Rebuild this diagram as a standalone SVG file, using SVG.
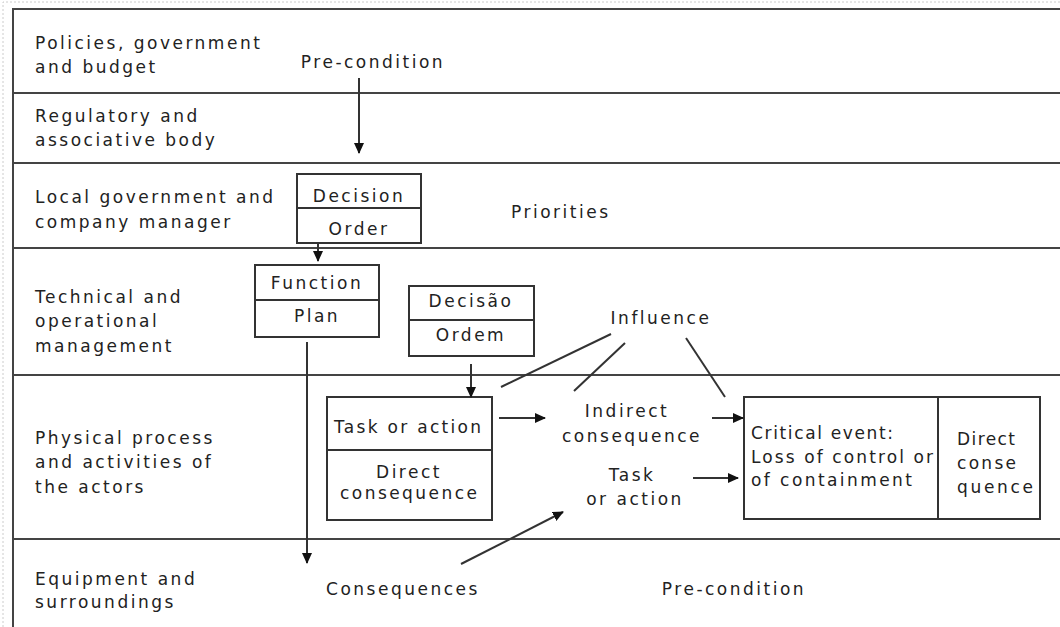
<svg xmlns="http://www.w3.org/2000/svg" width="1060" height="627" viewBox="0 0 1060 627">
<defs>
<marker id="ah" markerUnits="userSpaceOnUse" markerWidth="11" markerHeight="10" refX="10" refY="5" orient="auto">
<path d="M0,0 L11,5 L0,10 z" fill="#111"/>
</marker>
<style>
text{font-family:"DejaVu Sans",Verdana,sans-serif;font-size:17px;fill:#222;letter-spacing:2.5px}
.c{text-anchor:middle}
.t{letter-spacing:0}
.lane{stroke:#444;stroke-width:2;fill:none}
.box{stroke:#333;stroke-width:2;fill:#fff}
.div{stroke:#333;stroke-width:2}
.con{stroke:#333;stroke-width:2;fill:none}
.arr{marker-end:url(#ah)}
</style>
</defs>
<rect width="1060" height="627" fill="#fff"/>
<path d="M3,627 V2 H1060" stroke="#ccc" stroke-width="1" stroke-dasharray="2,2" fill="none"/>
<g id="lanes">
<path class="lane" d="M13,627 V9 H1060 M13,93 H1060 M13,163 H1060 M13,248 H1060 M13,375 H1060 M13,539 H1060"/>
<text x="35" y="49">Policies, government</text>
<text x="35" y="73">and budget</text>
<text x="35" y="122">Regulatory and</text>
<text x="35" y="146">associative body</text>
<text x="35" y="203">Local government and</text>
<text x="35" y="228">company manager</text>
<text x="35" y="303">Technical and</text>
<text x="35" y="327">operational</text>
<text x="35" y="352">management</text>
<text x="35" y="444">Physical process</text>
<text x="35" y="468">and activities of</text>
<text x="35" y="493">the actors</text>
<text x="35" y="585">Equipment and</text>
<text x="35" y="608">surroundings</text>
</g>
<g id="labels">
<text class="c" x="373" y="68">Pre-condition</text>
<text x="511" y="218">Priorities</text>
<text class="c" x="661" y="324">Influence</text>
<text class="c" x="627" y="417">Indirect</text>
<text class="c" x="632" y="442">consequence</text>
<text class="c" x="632" y="481">Task</text>
<text class="c" x="635" y="505">or action</text>
<text class="c" x="403" y="595">Consequences</text>
<text class="c" x="734" y="595">Pre-condition</text>
</g>
<g id="decision">
<rect class="box" x="297" y="174" width="124" height="69"/>
<line class="div" x1="297" y1="208" x2="421" y2="208"/>
<text class="c" x="359" y="202">Decision</text>
<text class="c" x="359" y="235">Order</text>
</g>
<g id="function">
<rect class="box" x="255" y="265" width="124" height="72"/>
<line class="div" x1="255" y1="300" x2="379" y2="300"/>
<text class="c" x="317" y="289">Function</text>
<text class="c" x="317" y="322">Plan</text>
</g>
<g id="decisao">
<rect class="box" x="409" y="286" width="125" height="70"/>
<line class="div" x1="409" y1="320" x2="534" y2="320"/>
<text class="c" x="471" y="307">Decisão</text>
<text class="c" x="471" y="341">Ordem</text>
</g>
<g id="task">
<rect class="box" x="327" y="397" width="165" height="123"/>
<line class="div" x1="327" y1="450" x2="492" y2="450"/>
<text class="t" x="334" y="433" textLength="147">Task or action</text>
<text class="c" x="409" y="478">Direct</text>
<text class="t" x="340" y="499" textLength="137">consequence</text>
</g>
<g id="critical">
<rect class="box" x="744" y="397" width="296" height="122"/>
<line class="div" x1="938" y1="397" x2="938" y2="519"/>
<text class="t" x="751" y="439" textLength="142">Critical event:</text>
<text class="t" x="751" y="463" textLength="182">Loss of control or</text>
<text class="t" x="751" y="486" textLength="161">of containment</text>
<text class="t" x="957" y="445" textLength="58">Direct</text>
<text class="t" x="957" y="469" textLength="59">conse</text>
<text class="t" x="957" y="493" textLength="76">quence</text>
</g>
<g id="connectors">
<line class="con arr" x1="359" y1="78" x2="359" y2="153"/>
<line class="con arr" x1="318" y1="244" x2="318" y2="261"/>
<line class="con arr" x1="307" y1="342" x2="307" y2="563"/>
<line class="con arr" x1="471" y1="364" x2="471" y2="397"/>
<line class="con arr" x1="499" y1="418" x2="545" y2="418"/>
<line class="con arr" x1="712" y1="418" x2="743" y2="418"/>
<line class="con arr" x1="693" y1="478" x2="738" y2="478"/>
<line class="con arr" x1="461" y1="564" x2="563" y2="512"/>
<line class="con" x1="611" y1="334" x2="501" y2="387"/>
<line class="con" x1="625" y1="343" x2="574" y2="391"/>
<line class="con" x1="686" y1="338" x2="725" y2="397"/>
</g>
</svg>
